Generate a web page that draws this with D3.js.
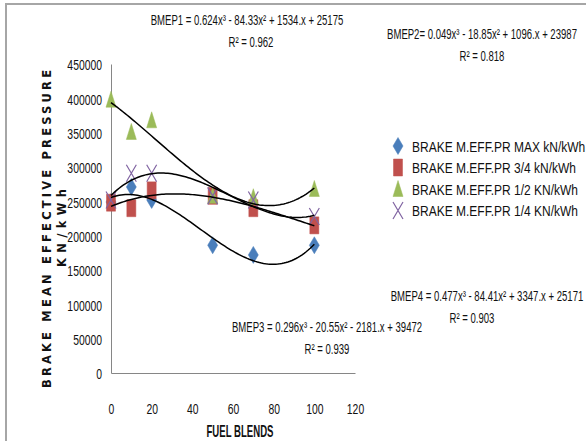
<!DOCTYPE html>
<html lang="en">
<head>
    <meta charset="UTF-8">
    <title>Brake Mean Effective Pressure vs Fuel Blends</title>
    <style>
        body {
            margin: 0;
            padding: 0;
            background-color: #ffffff;
        }
        text {
            font-family: "Liberation Sans", Arial, sans-serif;
            fill: #111;
        }
        .tick-label {
            font-size: 15.5px;
        }
        .eq-label {
            font-size: 14.5px;
        }
        .legend-label {
            font-size: 15px;
        }
        .axis-title {
            font-size: 16px;
            font-weight: bold;
        }
        .y-title {
            font-family: "DejaVu Sans", sans-serif;
            font-size: 11.5px;
            font-weight: bold;
        }
    </style>
</head>
<body>
    <svg width="586" height="441"></svg>

    <script src="https://d3js.org/d3.v7.min.js"></script>
    <script>
        // data
        const blends = [0, 10, 20, 50, 70, 100];
        const bmepMax = [249000, 271000, 252000, 186000, 172000, 186000];
        const bmep34 = [248000, 240000, 266000, 258000, 240000, 215000];
        const bmep12 = [398000, 351000, 368000, 258000, 256000, 268000];
        const bmep14 = [252000, 291000, 291000, 258000, 252000, 228000];

        const seriesNames = [
            "BRAKE M.EFF.PR MAX kN/kWh",
            "BRAKE M.EFF.PR 3/4 kN/kWh",
            "BRAKE M.EFF.PR 1/2 KN/kWh",
            "BRAKE M.EFF.PR 1/4 KN/kWh"
        ];
        const seriesColors = ["#4a7ebb", "#c0504d", "#9bbb59", "#8064a2"];
        const seriesShapes = ["diamond", "square", "triangle", "cross"];

        const xTicks = [0, 20, 40, 60, 80, 100, 120];
        const yTicks = [0, 50000, 100000, 150000, 200000, 250000, 300000, 350000, 400000, 450000];

        const equations = [
            "BMEP1 = 0.624x³ - 84.33x² + 1534.x + 25175",
            "BMEP2= 0.049x³ - 18.85x² + 1096.x + 23987",
            "BMEP3 = 0.296x³ - 20.55x² - 2181.x + 39472",
            "BMEP4 = 0.477x³ - 84.41x² + 3347.x + 25171"
        ];
        const rSquared = ["R² = 0.962", "R² = 0.818", "R² = 0.939", "R² = 0.903"];

        // the original text is tall and narrow
        const squeezeTick = 0.67;
        const squeezeEq = 0.66;

        const svg = d3.select("svg");

        // outer chart frame
        svg.append("rect")
            .attr("x", 6).attr("y", 4)
            .attr("width", 600).attr("height", 460)
            .attr("fill", "none")
            .attr("stroke", "#a6a6a6")
            .attr("stroke-width", 2);

        const x = d3.scaleLinear().domain([0, 120]).range([111, 355]);
        const y = d3.scaleLinear().domain([0, 450000]).range([373, 64]);

        // axes
        const yAxis = svg.append("g")
            .attr("transform", `translate(${x(0)},0)`)
            .call(d3.axisLeft(y).tickValues(yTicks).tickSize(0).tickFormat(d3.format("d")));
        yAxis.select(".domain").attr("stroke", "#868686");
        yAxis.selectAll("text")
            .attr("class", "tick-label")
            .attr("x", -9 / squeezeTick)
            .attr("dy", "0.38em")
            .attr("transform", `scale(${squeezeTick},1)`);

        const xAxis = svg.append("g")
            .attr("transform", `translate(0,${y(0)})`)
            .call(d3.axisBottom(x).tickValues(xTicks).tickSize(0).tickPadding(30));
        xAxis.select(".domain").attr("stroke", "#868686");
        xAxis.selectAll("text")
            .attr("class", "tick-label")
            .attr("transform", `scale(${squeezeTick},1)`);

        svg.append("text")
            .attr("class", "axis-title")
            .attr("transform", `translate(240,437) scale(0.6,1)`)
            .attr("text-anchor", "middle")
            .text("FUEL BLENDS");

        svg.append("text")
            .attr("class", "y-title")
            .attr("transform", "translate(51,229) rotate(-90)")
            .attr("text-anchor", "middle")
            .attr("textLength", 318)
            .attr("lengthAdjust", "spacing")
            .text("BRAKE MEAN EFFECTIVE PRESSURE");

        svg.append("text")
            .attr("class", "y-title")
            .attr("transform", "translate(66,228) rotate(-90)")
            .attr("text-anchor", "middle")
            .attr("textLength", 78)
            .attr("lengthAdjust", "spacing")
            .text("KN/kWh");

        // marker shapes, taller than wide like the squeezed original
        function markerPath(shape) {
            const w = 5, h = 8.5;
            if (shape === "diamond") return `M0,${-h}L${w},0L0,${h}L${-w},0Z`;
            if (shape === "square") return `M${-w + 0.5},${-h}H${w - 0.5}V${h}H${-w + 0.5}Z`;
            if (shape === "triangle") return `M0,${-h}L${w},${h - 1}H${-w}Z`;
            return `M${-w},${-h}L${w},${h}M${w},${-h}L${-w},${h}`;
        }

        const seriesValues = [bmepMax, bmep34, bmep12, bmep14];
        const series = seriesValues.map((vals, i) => ({
            name: seriesNames[i],
            color: seriesColors[i],
            shape: seriesShapes[i],
            points: blends.map((b, j) => ({x: b, y: vals[j]}))
        }));

        series.forEach(s => {
            svg.append("g")
                .selectAll("path")
                .data(s.points)
                .join("path")
                .attr("transform", d => `translate(${x(d.x)},${y(d.y)})`)
                .attr("d", markerPath(s.shape))
                .attr("fill", s.shape === "cross" ? "none" : s.color)
                .attr("stroke", s.color)
                .attr("stroke-width", s.shape === "cross" ? 1.2 : 0.5);
        });

        // cubic least squares trendline, like the spreadsheet trendline
        function cubicFit(pts) {
            const n = 4;
            const A = Array.from({length: n}, () => new Array(n + 1).fill(0));
            pts.forEach(p => {
                const t = p.x / 100;
                const pw = [1, t, t * t, t * t * t];
                for (let r = 0; r < n; r++) {
                    for (let c = 0; c < n; c++) A[r][c] += pw[r] * pw[c];
                    A[r][n] += pw[r] * p.y;
                }
            });
            for (let i = 0; i < n; i++) {
                let m = i;
                for (let k = i + 1; k < n; k++) if (Math.abs(A[k][i]) > Math.abs(A[m][i])) m = k;
                [A[i], A[m]] = [A[m], A[i]];
                for (let k = 0; k < n; k++) {
                    if (k === i) continue;
                    const f = A[k][i] / A[i][i];
                    for (let c = i; c <= n; c++) A[k][c] -= f * A[i][c];
                }
            }
            const coef = A.map((row, i) => row[n] / row[i]);
            return xv => {
                const t = xv / 100;
                return coef[0] + coef[1] * t + coef[2] * t * t + coef[3] * t * t * t;
            };
        }

        const line = d3.line().x(d => x(d[0])).y(d => y(d[1]));
        series.forEach(s => {
            const f = cubicFit(s.points);
            const pts = d3.range(0, 100.01, 1).map(v => [v, f(v)]);
            svg.append("path")
                .attr("d", line(pts))
                .attr("fill", "none")
                .attr("stroke", "#000")
                .attr("stroke-width", 1.5);
        });

        // legend
        const legend = svg.append("g");
        series.forEach((s, i) => {
            const ly = 146 + i * 21.5;
            legend.append("path")
                .attr("transform", `translate(398,${ly})`)
                .attr("d", markerPath(s.shape))
                .attr("fill", s.shape === "cross" ? "none" : s.color)
                .attr("stroke", s.color)
                .attr("stroke-width", s.shape === "cross" ? 1.2 : 0.5);
            legend.append("text")
                .attr("class", "legend-label")
                .attr("transform", `translate(412,${ly + 5.5}) scale(0.8,1)`)
                .text(s.name);
        });

        // trendline equation labels
        const eqPos = [[247, 25], [482, 39], [327, 332], [487, 301]];
        equations.forEach((eq, i) => {
            const [ex, ey] = eqPos[i];
            svg.append("text")
                .attr("class", "eq-label")
                .attr("transform", `translate(${ex},${ey}) scale(${squeezeEq},1)`)
                .attr("text-anchor", "middle")
                .text(eq);
            svg.append("text")
                .attr("class", "eq-label")
                .attr("transform", `translate(${ex + (i === 3 ? -15 : i === 0 ? 4 : 0)},${ey + 22}) scale(${squeezeEq},1)`)
                .attr("text-anchor", "middle")
                .text(rSquared[i]);
        });
    </script>
</body>
</html>
